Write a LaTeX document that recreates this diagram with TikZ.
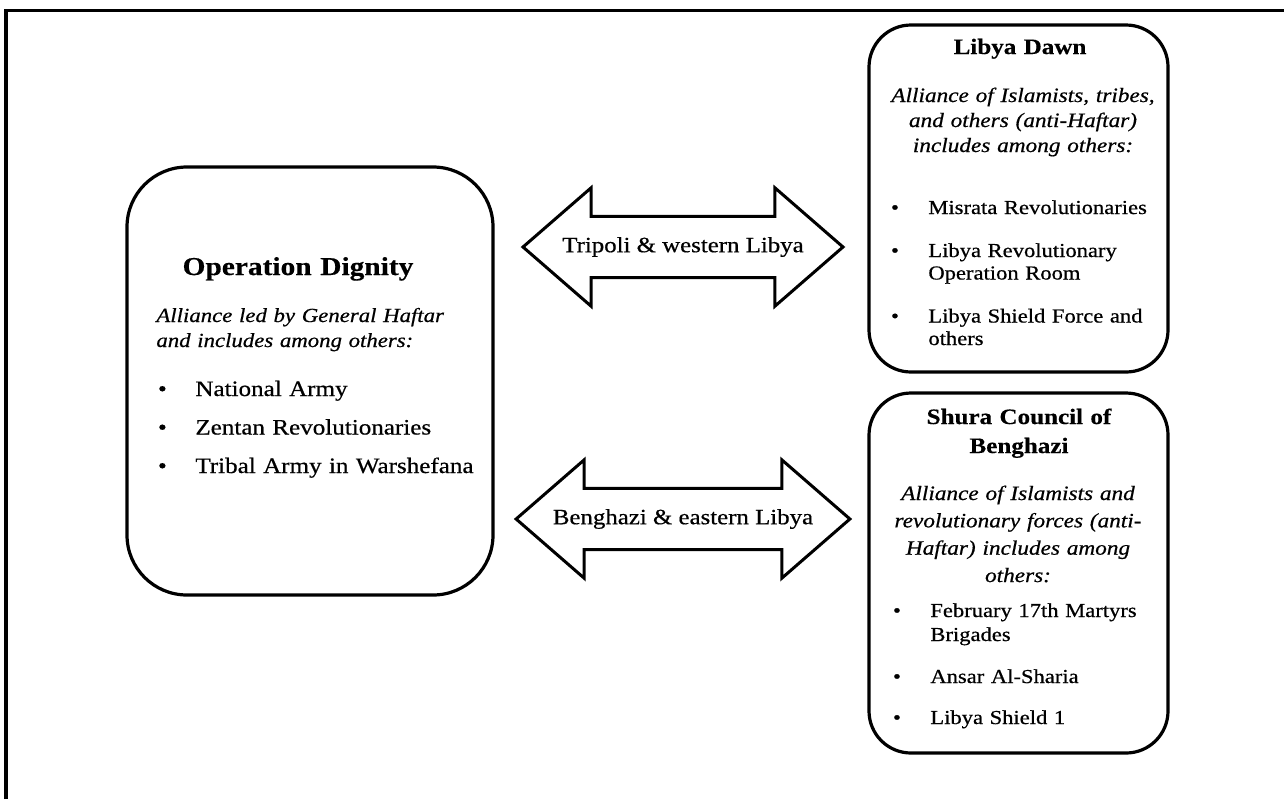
\documentclass[tikz,border=0pt]{standalone}
\usepackage{fontspec}
\setmainfont{Liberation Serif}[FakeStretch=1.14,UprightFeatures={FakeBold=0.6},ItalicFeatures={FakeBold=0.6},BoldFeatures={FakeBold=0.4}]
\usetikzlibrary{shapes.arrows}

\newcommand{\itembullet}{\leavevmode\llap{\makebox[18.7pt][l]{\textbullet}}}

\begin{document}
\begin{tikzpicture}[x=0.5pt,y=-0.5pt,
  box/.style={draw,line width=1.6pt,rounded corners=#1,inner sep=0pt},
  box/.default=21pt,
  dblarrow/.style={draw,line width=1.5pt,double arrow,double arrow head extend=14.25pt,
    double arrow tip angle=82,minimum height=160pt,minimum width=58pt,
    inner xsep=0pt,inner ysep=9.6pt,text height=7.6pt,text depth=2.4pt,
    font=\fontsize{10.9}{13}\selectfont},
  ttl/.style={anchor=base,font=\fontsize{11}{14.5}\selectfont\bfseries,text width=150pt,align=center,inner sep=0pt},
  desc/.style={anchor=base,font=\fontsize{10.2}{#1}\selectfont\itshape,text width=150pt,align=center,inner sep=0pt},
  lst/.style={anchor=base west,font=\fontsize{9.9}{#1}\selectfont,text width=140pt,align=left,inner sep=0pt}]
\useasboundingbox (0,0) rectangle (1284,799);
\draw[line width=1.8pt] (6,799) |- (1284,10.5);

% boxes
\node[box=30pt,minimum width=183pt,minimum height=214pt] (dignity) at (310,381) {};
\node[box,minimum width=149.5pt,minimum height=173.5pt] (dawn) at (1018.5,198.5) {};
\node[box,minimum width=149.5pt,minimum height=180pt] (shura) at (1018.5,573) {};

% arrows
\node[dblarrow] (west) at (683,247) {Tripoli \& western Libya};
\node[dblarrow] (east) at (683,519) {Benghazi \& eastern Libya};

% Operation Dignity
\node[ttl,font=\fontsize{12.9}{15}\selectfont\bfseries] (dignityttl) at (298,275) {Operation Dignity};
\node[desc=12.5pt,font=\fontsize{10}{12.5}\selectfont\itshape,anchor=base west,align=left] (dignitydesc) at (156,322) {Alliance led by General Haftar\\and includes among others:};
\node[lst=19.25pt,font=\fontsize{11}{19.25}\selectfont,text width=170pt] (dignitylst) at (195,396) {\itembullet National Army\\\itembullet Zentan Revolutionaries\\\itembullet Tribal Army in Warshefana};

% Libya Dawn
\node[ttl] (dawnttl) at (1020,54) {Libya Dawn};
\node[desc=12.5pt] (dawndesc) at (1023,102) {Alliance of Islamists, tribes,\\and others (anti-Haftar)\\includes among others:};
\node[lst=11.25pt] (dawnlst) at (928,214) {\itembullet Misrata Revolutionaries\\[10.25pt]\itembullet Libya Revolutionary\\Operation Room\\[10.25pt]\itembullet Libya Shield Force and\\others};

% Shura Council of Benghazi
\node[ttl] (shurattl) at (1019,424) {Shura Council of\\Benghazi};
\node[desc=13.67pt] (shuradesc) at (1018,500) {Alliance of Islamists and\\revolutionary forces (anti-\\Haftar) includes among\\others:};
\node[lst=12pt] (shuralst) at (930,617) {\itembullet February 17th Martyrs\\Brigades\\[9pt]\itembullet Ansar Al-Sharia\\[8.5pt]\itembullet Libya Shield 1};
\end{tikzpicture}
\end{document}
